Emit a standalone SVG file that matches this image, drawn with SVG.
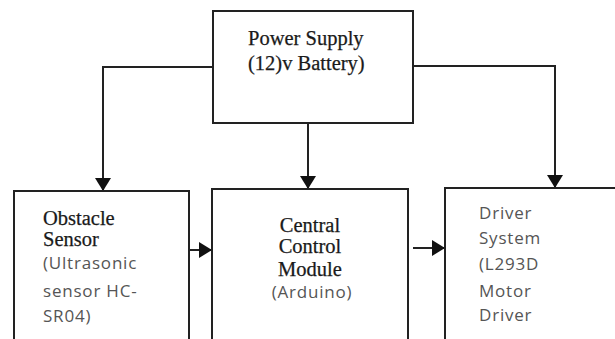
<svg xmlns="http://www.w3.org/2000/svg" width="615" height="339" viewBox="0 0 615 339">
<defs>
<style>
.box{fill:#fff;stroke:#222;stroke-width:2}
.con{fill:none;stroke:#222;stroke-width:2}
.serif{font-family:"Liberation Serif","Times New Roman",serif;font-size:20.5px;fill:#1a1a1a;stroke:#1a1a1a;stroke-width:0.25}
.sans{font-family:"Open Sans","Liberation Sans",sans-serif;font-size:17px;letter-spacing:0.8px;fill:#555}
</style>
<marker id="arr" markerUnits="userSpaceOnUse" markerWidth="16" markerHeight="18" viewBox="0 0 16 18" refX="14" refY="9" orient="auto">
<path d="M1,1 L14,9 L1,17 Z" fill="#111"/>
</marker>
</defs>
<rect width="615" height="339" fill="#fff"/>
<g id="connectors">
<path class="con" d="M213,67 H103 V191" marker-end="url(#arr)"/>
<path class="con" d="M413,66 H555 V188" marker-end="url(#arr)"/>
<path class="con" d="M308,123 V189" marker-end="url(#arr)"/>
<path class="con" d="M189,250 H212" marker-end="url(#arr)"/>
<path class="con" d="M413,248 H445" marker-end="url(#arr)"/>
</g>
<g id="power">
<rect class="box" x="213" y="11" width="200" height="112"/>
<text class="serif" x="248" y="45">Power Supply</text>
<text class="serif" x="248" y="70">(12)v Battery)</text>
</g>
<g id="sensor">
<rect class="box" x="14" y="191" width="175" height="160"/>
<text class="serif" x="43" y="225">Obstacle</text>
<text class="serif" x="43" y="246">Sensor</text>
<text class="sans" x="43" y="269">(Ultrasonic</text>
<text class="sans" x="43" y="297">sensor HC-</text>
<text class="sans" x="43" y="322">SR04)</text>
</g>
<g id="central">
<rect class="box" x="212" y="189" width="196" height="162"/>
<text class="serif" x="310" y="232" text-anchor="middle">Central</text>
<text class="serif" x="310" y="253" text-anchor="middle">Control</text>
<text class="serif" x="310" y="276" text-anchor="middle">Module</text>
<text class="sans" x="312" y="298" text-anchor="middle">(Arduino)</text>
</g>
<g id="driver">
<rect class="box" x="445" y="188" width="180" height="163"/>
<text class="sans" x="479" y="219">Driver</text>
<text class="sans" x="479" y="244">System</text>
<text class="sans" x="479" y="270">(L293D</text>
<text class="sans" x="479" y="297">Motor</text>
<text class="sans" x="479" y="321">Driver</text>
</g>
</svg>
